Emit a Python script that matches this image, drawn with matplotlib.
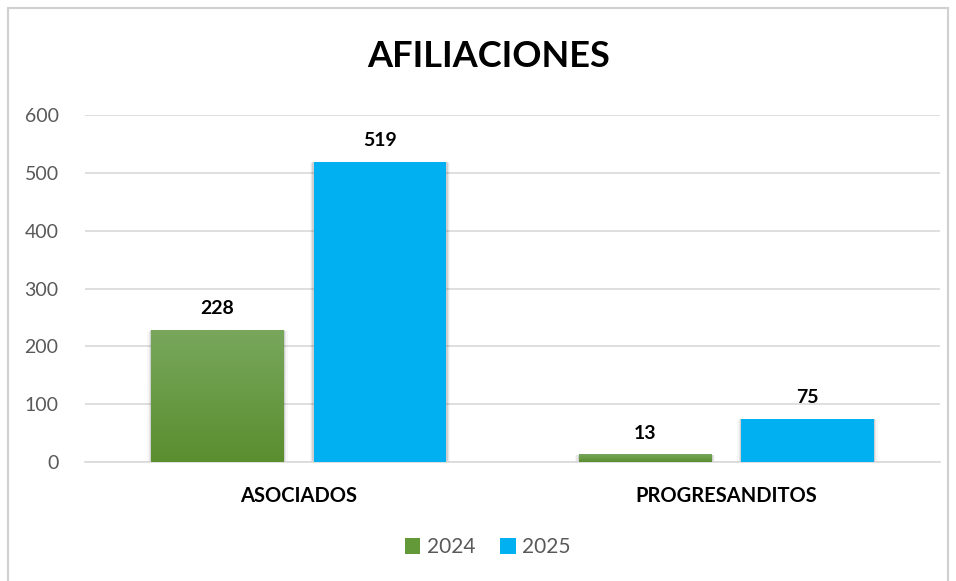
import matplotlib.pyplot as plt
import numpy as np
from matplotlib.colors import LinearSegmentedColormap
from matplotlib.patches import Rectangle

categories = ["ASOCIADOS", "PROGRESANDITOS"]
series_names = ["2024", "2025"]
values_2024 = [228, 13]
values_2025 = [519, 75]
yticks = [0, 100, 200, 300, 400, 500, 600]

plt.rcParams["font.family"] = ["Lato", "DejaVu Sans"]

fig = plt.figure(figsize=(9.56, 5.81), dpi=100)
ax = fig.add_axes([0.0889, 0.2048, 0.8945, 0.5972])

# chart border
fig.patches.append(Rectangle((8 / 956, -0.01), 940 / 956, 1 - 8 / 581 + 0.01,
                             transform=fig.transFigure, fill=False,
                             edgecolor="#d0d0d0", linewidth=1.5))

x = np.arange(len(categories))
width = 0.31
offset = 0.19

green_cmap = LinearSegmentedColormap.from_list("g", ["#5a8e2f", "#78a75c"])
blue = "#00b0f0"

b1 = ax.bar(x - offset, values_2024, width, color="#64993a", label=series_names[0], zorder=3)
b2 = ax.bar(x + offset, values_2025, width, color=blue, label=series_names[1], zorder=3)

# gradient fill and soft shadow
for bars in (b1, b2):
    for r in bars:
        x0, y0 = r.get_x(), r.get_y()
        w, h = r.get_width(), r.get_height()
        for k, a in enumerate([0.10, 0.06, 0.03]):
            ax.add_patch(Rectangle((x0 - 0.003 * (k + 1), y0 - 2.5 * (k + 1)),
                                   w + 0.006 * (k + 1), h + 2 * (k + 1),
                                   facecolor="black", alpha=a, edgecolor="none", zorder=2))
for r in b1:
    x0, w, h = r.get_x(), r.get_width(), r.get_height()
    grad = np.linspace(0, 1, 100).reshape(-1, 1)
    ax.imshow(grad, extent=(x0, x0 + w, 0, h), origin="lower", cmap=green_cmap,
              aspect="auto", zorder=4)

for bars, vals in ((b1, values_2024), (b2, values_2025)):
    for r, v in zip(bars, vals):
        ax.text(r.get_x() + r.get_width() / 2, v + 22, str(v), ha="center", va="bottom",
                fontsize=14, fontweight="bold", color="black", zorder=5)

ax.set_xlim(-0.5, 1.5)
ax.set_ylim(0, 600)
ax.set_yticks(yticks)
ax.set_xticks(x)
ax.set_xticklabels(categories, fontsize=14.5, fontweight="bold", color="black")
ax.tick_params(axis="x", length=0, pad=17)
ax.tick_params(axis="y", length=0, pad=19, labelsize=14, labelcolor="#595959")
ax.grid(axis="y", color="#d9d9d9", linewidth=1.2, zorder=0)
for s in ["top", "right", "left"]:
    ax.spines[s].set_visible(False)
ax.spines["bottom"].set_color("#d9d9d9")
ax.spines["bottom"].set_linewidth(1.2)

fig.text(0.511, 0.902, "AFILIACIONES", ha="center", va="center",
         fontsize=26, fontweight="bold", color="black")

leg = fig.legend(handles=[b1, b2], labels=series_names, loc="center",
                 bbox_to_anchor=(0.51, 0.058), ncol=2, frameon=False,
                 fontsize=15, handlelength=0.75, handleheight=0.75,
                 handletextpad=0.3, columnspacing=1.2)
leg.legend_handles[0].set_facecolor("#64993a")
for t in leg.get_texts():
    t.set_color("#595959")

fig.savefig("out.png", dpi=100)
